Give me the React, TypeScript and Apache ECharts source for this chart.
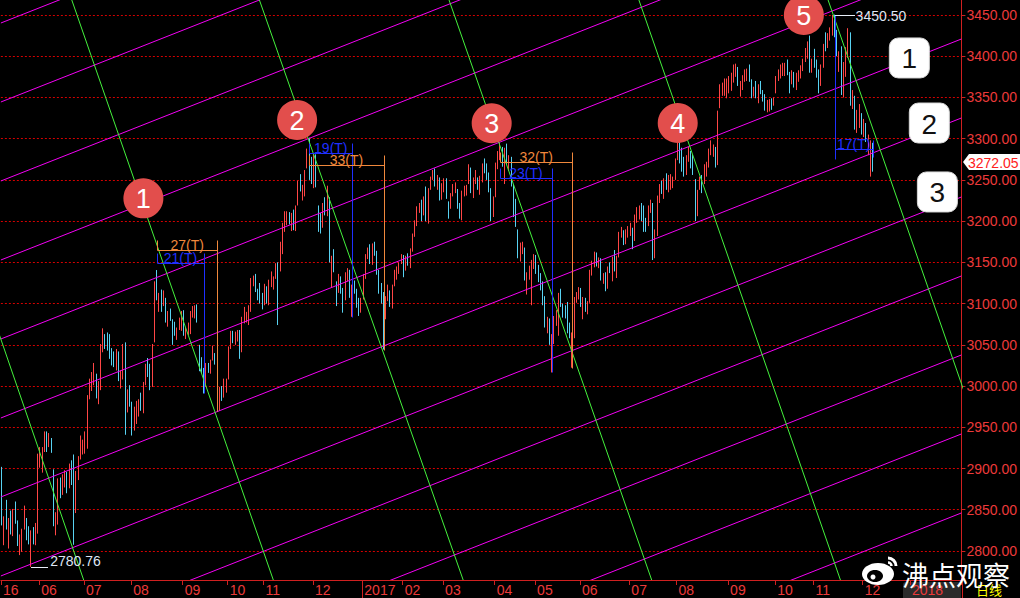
import React, { useEffect, useRef } from 'react';
import * as echarts from 'echarts';

// ---------- axis definitions ----------
const monthLabels = ['16', '06', '07', '08', '09', '10', '11', '12', '2017', '02', '03', '04', '05', '06', '07', '08', '09', '10', '11', '12', '2018'];
const monthDays = [17, 20, 21, 23, 20, 16, 22, 22, 18, 18, 23, 18, 20, 22, 21, 23, 21, 17, 22, 21, 23];
const yTicks = [2800, 2850, 2900, 2950, 3000, 3050, 3100, 3150, 3200, 3250, 3300, 3350, 3400, 3450];
const yMin = 2764.8;
const yMax = 3468.2;

// ---------- daily candles [open, close, low, high] ----------
const may2016 = [
  [2900, 2832.6, 2831, 2902], [2822, 2832.1, 2807, 2842], [2840, 2837.0, 2826, 2862], [2828, 2835.9, 2803, 2840],
  [2836, 2827.1, 2820, 2849], [2822, 2850.9, 2818, 2851], [2853, 2843.7, 2833, 2860], [2833, 2807.5, 2806, 2837],
  [2806, 2806.9, 2795, 2820], [2800, 2825.5, 2799, 2827], [2830, 2843.6, 2826, 2855], [2838, 2821.0, 2813, 2840],
  [2821, 2815.1, 2808, 2830], [2811, 2822.4, 2780.76, 2825], [2822, 2821.1, 2808, 2829], [2820, 2822.5, 2807, 2834],
  [2822, 2916.6, 2821, 2918],
];
const jun2016 = [
  [2913, 2913.5, 2901, 2926], [2907, 2925.2, 2895, 2926], [2926, 2938.7, 2920, 2945], [2937, 2934.1, 2920, 2945],
  [2934, 2936.0, 2926, 2943], [2932, 2927.2, 2919, 2937], [2896, 2833.1, 2830, 2899], [2828, 2842.2, 2819, 2847],
  [2837, 2887.2, 2832, 2888], [2881, 2872.8, 2864, 2889], [2869, 2885.1, 2868, 2893], [2884, 2888.8, 2877, 2898],
  [2889, 2878.6, 2870, 2896], [2879, 2905.6, 2876, 2906], [2901, 2891.9, 2880, 2910], [2891, 2854.3, 2807.5, 2917],
  [2851, 2895.7, 2846, 2897], [2893, 2912.6, 2886, 2915], [2913, 2931.6, 2911, 2940], [2929, 2929.6, 2917, 2935],
];
const jul2016 = [
  [2931, 2932.5, 2918, 2945], [2924, 2988.6, 2924, 2989], [2990, 3006.9, 2984, 3009], [3005, 3017.3, 2994, 3017],
  [3013, 3016.9, 3001, 3028], [3015, 2988.1, 2985, 3015], [2990, 2994.9, 2978, 3006], [2996, 3049.4, 2995, 3051],
  [3048, 3060.7, 3041, 3070], [3058, 3054.0, 3045, 3063], [3055, 3054.3, 3043, 3065], [3055, 3043.6, 3033, 3063],
  [3038, 3036.6, 3025, 3046], [3035, 3027.9, 3023, 3042], [3030, 3039.2, 3019, 3045], [3038, 3012.8, 3006, 3042],
  [3009, 3015.8, 2997, 3019], [3016, 3050.2, 3008, 3051], [3051, 2992.0, 2940.9, 3053], [2980, 2994.3, 2968, 2996],
  [2997, 2979.3, 2975, 3001],
];
const aug2016 = [
  [2977, 2953.4, 2940, 2981], [2951, 2971.3, 2946, 2975], [2962, 2978.5, 2954, 2982], [2973, 2982.4, 2963, 2984],
  [2984, 2976.7, 2970, 2992], [2974, 3004.3, 2967, 3005], [3004, 3025.7, 3001, 3027], [3024, 3018.8, 3011, 3034],
  [3012, 3002.9, 2995, 3027], [3001, 3050.7, 2999, 3051], [3053, 3125.2, 3053, 3127], [3124, 3110.0, 3104, 3140.7],
  [3105, 3110.0, 3090, 3113], [3108, 3104.1, 3090, 3117], [3103, 3108.1, 3097, 3116], [3106, 3084.8, 3077, 3107],
  [3082, 3089.7, 3072, 3091], [3089, 3085.9, 3079, 3094], [3075, 3068.3, 3050, 3081], [3071, 3070.3, 3061, 3078],
  [3062, 3070.0, 3056, 3071], [3070, 3074.7, 3068, 3083], [3071, 3085.5, 3067, 3091],
];
const sep2016 = [
  [3082, 3063.3, 3061, 3092], [3063, 3067.4, 3057, 3071], [3067, 3072.1, 3062, 3077], [3068, 3090.7, 3063, 3091],
  [3089, 3091.9, 3083, 3097], [3088, 3095.8, 3082, 3098], [3095, 3078.9, 3077, 3099], [3048, 3021.9, 3018, 3050],
  [3026, 3023.5, 3015, 3035], [3013, 3002.9, 2991, 3022], [3003, 3026.1, 2999, 3028], [3024, 3023.0, 3016, 3028],
  [3023, 3025.9, 3015, 3032], [3035, 3042.2, 3031, 3049], [3039, 3033.9, 3026, 3040], [3025, 2980.4, 2969.5, 3027],
  [2976, 2998.2, 2970, 2999], [2994, 2987.9, 2982, 3000], [2992, 2998.5, 2986, 3009], [2997, 3004.7, 2992, 3009],
];
const oct2016 = [
  [3012, 3048.1, 3008, 3048], [3051, 3065.3, 3045, 3067], [3063, 3058.5, 3052, 3067], [3056, 3061.3, 3050, 3066],
  [3057, 3063.8, 3054, 3068], [3065, 3041.2, 3033, 3068], [3041, 3083.9, 3041, 3084], [3083, 3084.7, 3076, 3096],
  [3083, 3084.5, 3077, 3090], [3083, 3090.9, 3074, 3098], [3090, 3128.2, 3090, 3131], [3129, 3131.9, 3121, 3134],
  [3131, 3116.3, 3114, 3136], [3113, 3112.4, 3104, 3118], [3113, 3104.3, 3100, 3125], [3103, 3100.5, 3093, 3113],
];
const nov2016 = [
  [3100, 3122.4, 3098, 3124], [3117, 3102.8, 3100, 3121], [3100, 3128.9, 3098, 3129], [3124, 3125.3, 3120, 3139],
  [3124, 3133.3, 3117, 3133], [3135, 3147.9, 3130, 3149], [3150, 3128.4, 3074, 3150], [3140, 3171.3, 3139, 3175],
  [3170, 3196.0, 3160, 3198], [3195, 3210.4, 3187, 3212], [3203, 3206.9, 3195, 3212], [3207, 3205.1, 3196, 3211],
  [3200, 3208.4, 3188, 3210], [3209, 3192.9, 3189, 3214], [3196, 3218.2, 3188, 3219], [3220, 3248.4, 3219, 3249],
  [3250, 3241.7, 3236, 3257], [3236, 3241.1, 3225, 3244], [3240, 3261.9, 3230, 3262], [3264, 3277.0, 3264, 3288],
  [3283, 3282.9, 3250, 3301.2], [3270, 3250.0, 3245, 3278],
];
const dec2016 = [
  [3245, 3273.3, 3240, 3282], [3271, 3243.8, 3241, 3281], [3218, 3204.7, 3187, 3219], [3208, 3199.6, 3185, 3210],
  [3196, 3222.2, 3192, 3222], [3224, 3215.4, 3207, 3229], [3210, 3232.9, 3206, 3243], [3227, 3152.9, 3150, 3229],
  [3140, 3155.0, 3120, 3158], [3152, 3140.5, 3138, 3166], [3120, 3117.7, 3097, 3127], [3117, 3122.9, 3113, 3136],
  [3122, 3118.1, 3112, 3133], [3116, 3102.9, 3089, 3119], [3104, 3137.4, 3104, 3138], [3135, 3139.6, 3127, 3143],
  [3136, 3110.2, 3107, 3141], [3105, 3122.6, 3084, 3123], [3121, 3114.7, 3112, 3128], [3113, 3102.2, 3095, 3118],
  [3099, 3096.1, 3085, 3107], [3097, 3103.6, 3089, 3107],
];
const jan2017 = [
  [3105, 3135.9, 3105, 3136], [3133, 3158.8, 3130, 3160], [3157, 3165.4, 3154, 3168], [3163, 3154.3, 3148, 3172],
  [3150, 3171.2, 3147, 3173], [3167, 3161.7, 3158, 3175], [3160, 3136.7, 3135, 3164], [3135, 3119.3, 3112, 3141],
  [3115, 3112.8, 3100, 3125], [3111, 3103.4, 3044.3, 3114], [3099, 3108.8, 3081, 3109], [3106, 3113.0, 3103, 3123],
  [3107, 3101.3, 3096, 3116], [3100, 3123.1, 3094, 3123], [3124, 3136.8, 3121, 3141], [3136, 3142.5, 3129, 3145],
  [3140, 3149.6, 3136, 3150], [3151, 3159.2, 3148, 3160],
];
const feb2017 = [
  [3156, 3140.2, 3132, 3159], [3142, 3156.0, 3140, 3158], [3155, 3153.1, 3146, 3161], [3150, 3166.9, 3143, 3167],
  [3165, 3183.2, 3163, 3185], [3183, 3196.7, 3181, 3201], [3197, 3216.8, 3194, 3218], [3216, 3217.0, 3210, 3222],
  [3215, 3212.0, 3200, 3226], [3212, 3229.6, 3207, 3230], [3229, 3202.1, 3200, 3242], [3201, 3240.2, 3197, 3240],
  [3239, 3253.3, 3238, 3254], [3254, 3261.2, 3250, 3262], [3260, 3251.2, 3242, 3264], [3245, 3253.4, 3238, 3256],
  [3251, 3228.7, 3225, 3253], [3228, 3241.7, 3226, 3246],
];
const mar2017 = [
  [3239, 3246.9, 3235, 3252], [3247, 3230.0, 3227, 3252], [3221, 3218.3, 3203, 3224], [3217, 3233.9, 3215, 3234],
  [3232, 3242.4, 3230, 3245], [3239, 3240.7, 3234, 3247], [3238, 3216.8, 3215, 3239], [3214, 3212.8, 3203, 3222],
  [3206, 3237.0, 3201, 3237], [3237, 3239.3, 3230, 3243], [3235, 3241.8, 3231, 3244], [3246, 3268.9, 3245, 3269],
  [3265, 3237.5, 3234, 3265], [3233, 3250.8, 3228, 3253], [3249, 3261.6, 3245, 3262], [3247, 3245.2, 3238, 3253],
  [3240, 3248.6, 3232, 3255], [3250, 3269.4, 3247, 3270], [3268, 3266.9, 3258, 3276], [3262, 3252.9, 3250, 3270],
  [3253, 3241.3, 3235, 3259], [3236, 3210.2, 3200, 3240], [3210, 3222.5, 3205, 3230],
];
const apr2017 = [
  [3230, 3270.1, 3229, 3271], [3271, 3281.0, 3263, 3285], [3280, 3286.6, 3274, 3295.2], [3288, 3269.4, 3266, 3290],
  [3262, 3288.9, 3245, 3289], [3285, 3273.8, 3268, 3294], [3270, 3275.9, 3261, 3280], [3274, 3246.1, 3242, 3278],
  [3242, 3222.2, 3205, 3245], [3222, 3196.7, 3193, 3227], [3183, 3170.7, 3155, 3190], [3169, 3172.1, 3151, 3174],
  [3168, 3173.2, 3160, 3175], [3165, 3129.5, 3128, 3168], [3128, 3134.6, 3111, 3138], [3136, 3140.8, 3129, 3146],
  [3140, 3152.2, 3098, 3153], [3150, 3154.7, 3142, 3160],
];
const may2017 = [
  [3153, 3143.7, 3136, 3159], [3141, 3135.4, 3126, 3147], [3131, 3127.4, 3116, 3137], [3122, 3103.0, 3098, 3127],
  [3100, 3078.6, 3071, 3109], [3073, 3080.5, 3064, 3084], [3077, 3052.8, 3050, 3082], [3045, 3061.5, 3016.5, 3063],
  [3055, 3083.5, 3051, 3085], [3083, 3090.2, 3073, 3092], [3087, 3112.9, 3061, 3113], [3110, 3104.4, 3096, 3118],
  [3096, 3090.1, 3083, 3100], [3092, 3090.6, 3082, 3098], [3093, 3075.7, 3064, 3102], [3069, 3061.9, 3058, 3077],
  [3054, 3064.1, 3022.3, 3065], [3061, 3107.8, 3058, 3108], [3106, 3110.1, 3101, 3114], [3114, 3117.2, 3105, 3120],
];
const jun2017 = [
  [3113, 3102.6, 3096, 3119], [3094, 3105.5, 3081, 3108], [3102, 3091.7, 3090, 3107], [3090, 3102.1, 3087, 3103],
  [3102, 3140.3, 3101, 3141], [3138, 3150.3, 3134, 3152], [3148, 3158.4, 3144, 3163], [3157, 3153.1, 3145, 3162],
  [3148, 3153.7, 3143, 3156], [3151, 3130.7, 3128, 3155], [3130, 3132.5, 3124, 3137], [3130, 3123.2, 3115, 3138],
  [3123, 3144.4, 3118, 3145], [3142, 3140.0, 3137, 3150], [3137, 3156.2, 3127, 3157], [3157, 3147.5, 3139, 3165],
  [3144, 3157.9, 3131, 3158], [3158, 3185.4, 3156, 3187], [3184, 3191.2, 3180, 3193], [3186, 3173.2, 3171, 3189],
  [3173, 3188.1, 3172, 3190], [3183, 3192.4, 3180, 3194],
];
const jul2017 = [
  [3193, 3195.9, 3182, 3198], [3190, 3182.8, 3166, 3192], [3180, 3207.1, 3176, 3208], [3204, 3212.4, 3198, 3217],
  [3209, 3217.9, 3202, 3219], [3217, 3212.6, 3200, 3222], [3211, 3203.0, 3187, 3219], [3200, 3197.5, 3187, 3204],
  [3196, 3218.2, 3194, 3219], [3217, 3222.4, 3210, 3226], [3221, 3176.5, 3152.9, 3222], [3165, 3187.6, 3155, 3190],
  [3183, 3230.9, 3182, 3231], [3228, 3244.9, 3222, 3245], [3240, 3237.9, 3233, 3249], [3235, 3250.6, 3227, 3252],
  [3249, 3243.7, 3238, 3258], [3242, 3247.7, 3235, 3256], [3244, 3249.8, 3238, 3257], [3245, 3253.2, 3240, 3254],
  [3253, 3273.0, 3250, 3276],
];
const aug2017 = [
  [3275, 3292.6, 3274, 3305.4], [3291, 3285.1, 3270, 3297], [3282, 3272.9, 3260, 3289], [3268, 3262.1, 3254, 3278],
  [3263, 3279.5, 3256, 3280], [3280, 3281.9, 3272, 3290], [3280, 3275.6, 3264, 3285], [3273, 3261.8, 3256, 3281],
  [3242, 3208.5, 3200, 3251], [3210, 3237.4, 3206, 3238], [3241, 3251.3, 3238, 3254], [3250, 3246.4, 3234, 3256],
  [3247, 3268.4, 3245, 3269], [3262, 3268.4, 3254, 3272], [3268, 3286.9, 3265, 3288], [3289, 3290.2, 3280, 3298],
  [3286, 3287.7, 3278, 3293], [3286, 3271.5, 3265, 3290], [3270, 3331.5, 3268, 3334], [3338, 3362.6, 3337, 3366],
  [3361, 3365.2, 3352, 3368], [3363, 3363.6, 3352, 3373], [3360, 3360.8, 3349, 3373],
];
const sep2017 = [
  [3363, 3367.1, 3355, 3376], [3363, 3379.6, 3358, 3380], [3377, 3384.3, 3368, 3390], [3380, 3385.4, 3375, 3391],
  [3384, 3365.5, 3364, 3387], [3364, 3365.2, 3351, 3370], [3363, 3376.4, 3359, 3377], [3377, 3379.5, 3369, 3384],
  [3375, 3384.1, 3370, 3385], [3386, 3371.4, 3369, 3390], [3368, 3353.6, 3349, 3372], [3356, 3362.9, 3351, 3363],
  [3363, 3356.8, 3349, 3370], [3352, 3366.0, 3343, 3366], [3367, 3357.8, 3354, 3370], [3353, 3352.5, 3345, 3359],
  [3351, 3341.6, 3334, 3354], [3338, 3343.6, 3332, 3347], [3343, 3345.3, 3333, 3348], [3344, 3339.6, 3335, 3349],
  [3340, 3348.9, 3340, 3350],
];
const oct2017 = [
  [3364, 3374.4, 3355, 3376], [3377, 3382.2, 3370, 3384], [3379, 3388.3, 3373, 3390], [3385, 3386.1, 3376, 3392],
  [3385, 3390.5, 3376, 3392], [3392, 3378.5, 3377, 3396], [3379, 3372.0, 3355, 3381], [3374, 3381.8, 3366, 3383],
  [3378, 3370.2, 3362, 3381], [3366, 3378.6, 3359, 3380], [3378, 3380.7, 3369, 3383], [3376, 3388.2, 3373, 3389],
  [3384, 3396.9, 3382, 3397], [3397, 3407.6, 3393, 3410], [3407, 3416.8, 3397, 3418], [3415, 3390.3, 3380, 3425],
  [3385, 3393.3, 3380, 3397],
];
const nov2017 = [
  [3398, 3395.9, 3386, 3409], [3393, 3383.3, 3374, 3396], [3381, 3371.7, 3355, 3384], [3368, 3388.2, 3364, 3390],
  [3390, 3413.6, 3386, 3415], [3418, 3415.5, 3406, 3429], [3413, 3427.8, 3410, 3428], [3423, 3432.7, 3419, 3435],
  [3433, 3447.8, 3425, 3450.0], [3447, 3429.6, 3423, 3450.5], [3420, 3402.5, 3400, 3432], [3397, 3399.3, 3381, 3406],
  [3399, 3382.9, 3353, 3412], [3369, 3392.4, 3350, 3393], [3388, 3410.5, 3375, 3411], [3410, 3430.5, 3398, 3434],
  [3427, 3351.9, 3340, 3429], [3339, 3353.8, 3336, 3359], [3350, 3322.2, 3311, 3352], [3313, 3333.7, 3307, 3335],
  [3332, 3337.9, 3313, 3342], [3329, 3317.2, 3305, 3331],
];
const dec2017 = [
  [3315, 3317.6, 3302, 3324], [3310, 3309.6, 3296, 3319], [3303, 3303.7, 3280, 3305], [3291, 3293.9, 3254, 3298],
  [3290, 3272.05, 3260, 3295],
];

const lastPrice = 3272.05;
const lowMark = { idx: 13, price: 2780.76, text: '2780.76' };
const highMark = { idx: 371, price: 3450.5, text: '3450.50' };

// ---------- drawn trend lines (prices at left / right edge of the plot) ----------
const magentaLeft = [2386.5, 2482.3, 2578.1, 2673.9, 2769.7, 2865.5, 2961.3, 3057.1, 3152.9, 3248.7, 3344.5, 3440.3];
const magentaRight = [2846.1, 2941.9, 3037.7, 3133.5, 3229.3, 3325.1, 3420.9, 3516.7, 3612.5, 3708.3, 3804.1, 3899.9];
// green lines: day index where each crosses the top and the bottom of the plot
const greenTopIdx = [-52.5, 31.1, 114.7, 199.2, 283.8, 368.1];
const greenBottomIdx = [36.4, 120.9, 205.5, 289.5, 373.6, 457.9];

// ---------- annotations ----------
const waveBadges = [
  { n: '1', idx: 63.0, price: 3227.7 },
  { n: '2', idx: 131.5, price: 3322.7 },
  { n: '3', idx: 218.2, price: 3318.7 },
  { n: '4', idx: 301.1, price: 3319.0 },
  { n: '5', idx: 357.3, price: 3450.0 },
];
const channelBadges = [
  { n: '1', idx: 404.3, price: 3397.9 },
  { n: '2', idx: 413.2, price: 3319.0 },
  { n: '3', idx: 416.8, price: 3235.4 },
];
const ORANGE = '#f0883c';
const BLUE = '#1f2fff';
const brackets = [
  { label: '27(T)', color: ORANGE, start: 69, days: 27, level: 3165.0, top: 3177.0 },
  { label: '21(T)', color: BLUE, start: 69, days: 21, level: 3149.6, top: 3161.0 },
  { label: '19(T)', color: BLUE, start: 137, days: 19, level: 3282.6, top: 3294.8 },
  { label: '33(T)', color: ORANGE, start: 137, days: 33, level: 3268.1, top: 3280.2 },
  { label: '32(T)', color: ORANGE, start: 222, days: 32, level: 3271.7, top: 3283.9 },
  { label: '23(T)', color: BLUE, start: 222, days: 23, level: 3252.3, top: 3264.5 },
];
const backBracket = { label: '17(T)', color: BLUE, start: 371, days: 17, level: 3287.5, leftBottom: 3275.2, rightTop: 3298.4, rightBottom: 3277.8 };

const UP = '#ff4646';
const DOWN = '#58d2f2';
const AXIS_RED = '#d02020';
const LABEL_RED = '#ec3a3a';
const FONT = '"Liberation Sans", Arial, sans-serif';

export default function App() {
  const ref = useRef<HTMLDivElement>(null);

  useEffect(() => {
    if (!ref.current) return;
    const chart = echarts.init(ref.current, null, { renderer: 'svg' });

    const candles = [
      ...may2016, ...jun2016, ...jul2016, ...aug2016, ...sep2016, ...oct2016, ...nov2016, ...dec2016,
      ...jan2017, ...feb2017, ...mar2017, ...apr2017, ...may2017, ...jun2017, ...jul2017, ...aug2017,
      ...sep2017, ...oct2017, ...nov2017, ...dec2017,
    ];
    const labelAt: Record<number, string> = {};
    let total = 0;
    monthDays.forEach((d, k) => {
      labelAt[total] = monthLabels[k];
      total += d;
    });
    const categories = Array.from({ length: total }, (_, i) => String(i));
    const isMonthStart = (i: number) => labelAt[i] !== undefined;

    const lineSeries: any[] = [];
    magentaLeft.forEach((p, k) => {
      lineSeries.push({
        type: 'line', xAxisIndex: 1, yAxisIndex: 0, symbol: 'none', silent: true, clip: true, z: 3,
        lineStyle: { color: '#f400f4', width: 1 },
        data: [[-0.5, p], [total - 0.5, magentaRight[k]]],
      });
    });
    greenTopIdx.forEach((t, k) => {
      lineSeries.push({
        type: 'line', xAxisIndex: 1, yAxisIndex: 0, symbol: 'none', silent: true, clip: true, z: 3,
        lineStyle: { color: '#44f23c', width: 1 },
        data: [[t, yMax], [greenBottomIdx[k], yMin]],
      });
    });

    chart.setOption({
      animation: false,
      backgroundColor: '#000000',
      grid: { left: 0, right: 58, top: 0, bottom: 18, containLabel: false },
      xAxis: [
        {
          type: 'category',
          data: categories,
          boundaryGap: true,
          z: 5,
          axisLine: { show: true, onZero: false, lineStyle: { color: AXIS_RED, width: 1 } },
          axisTick: { show: true, interval: (i: number) => isMonthStart(i), length: 5, lineStyle: { color: AXIS_RED } },
          axisLabel: {
            show: true,
            interval: (i: number) => isMonthStart(i),
            formatter: (v: string) => labelAt[Number(v)] ?? '',
            color: LABEL_RED,
            fontSize: 14,
            fontFamily: FONT,
            align: 'left',
            margin: 3,
            padding: [0, 0, 0, 1],
          },
          splitLine: { show: false },
        },
        {
          type: 'value', min: -0.5, max: total - 0.5, show: false,
          axisLine: { show: false, onZero: false }, axisTick: { show: false }, axisLabel: { show: false }, splitLine: { show: false },
        },
      ],
      yAxis: {
        type: 'value',
        position: 'right',
        min: yMin,
        max: yMax,
        splitNumber: 14,
        scale: true,
        axisLine: { show: true, onZero: false, lineStyle: { color: AXIS_RED, width: 1 } },
        axisTick: { show: true, inside: false, length: 4, customValues: yTicks, lineStyle: { color: AXIS_RED } },
        axisLabel: {
          customValues: yTicks,
          formatter: (v: number) => v.toFixed(2),
          color: LABEL_RED,
          fontSize: 14,
          fontFamily: FONT,
          margin: 5,
        },
        splitLine: { show: true, lineStyle: { color: '#d40000', type: [2, 2], width: 1 } },
      },
      series: [
        {
          type: 'candlestick',
          xAxisIndex: 0,
          yAxisIndex: 0,
          data: candles,
          barWidth: 1,
          z: 2,
          itemStyle: { color: UP, color0: DOWN, borderColor: UP, borderColor0: DOWN, borderWidth: 1 },
        },
        ...lineSeries,
      ],
    });

    const P = (i: number, p: number) =>
      chart.convertToPixel({ xAxisIndex: 1, yAxisIndex: 0 } as any, [i, p]) as unknown as number[];
    const cx = (v: number) => Math.round(v) + 0.5;
    const g: any[] = [];
    const seg = (x1: number, y1: number, x2: number, y2: number, color: string, z = 20) =>
      g.push({ type: 'line', silent: true, z, shape: { x1, y1, x2, y2 }, style: { stroke: color, lineWidth: 1 } });
    const txt = (x: number, y: number, text: string, color: string, size: number, align: string, valign: string, extra: any = {}) =>
      g.push({
        type: 'text', silent: true, z: 30, x, y,
        style: {
          text, fill: color, fontSize: size, fontFamily: extra.family || FONT, fontWeight: extra.weight || 'normal',
          align, textAlign: align, verticalAlign: valign, textVerticalAlign: valign,
        },
      });

    // time brackets
    brackets.forEach((b) => {
      const end = b.start + b.days;
      const [xs, yl] = P(b.start, b.level);
      const [xe] = P(end, b.level);
      const yt = P(b.start, b.top)[1];
      const yLow = P(end, candles[end][2])[1];
      seg(cx(xs), cx(yl), cx(xe), cx(yl), b.color);
      seg(cx(xs), cx(yt), cx(xs), cx(yl), b.color);
      seg(cx(xe), cx(yt), cx(xe), cx(yLow), b.color);
      txt((xs + xe) / 2, yl + 2, b.label, b.color, 14, 'center', 'bottom');
    });
    {
      const b = backBracket;
      const end = b.start + b.days;
      const [xs, yl] = P(b.start, b.level);
      const [xe] = P(end, b.level);
      const yHigh = P(b.start, highMark.price)[1];
      seg(cx(xs), cx(yHigh), cx(xs), cx(P(b.start, b.leftBottom)[1]), b.color);
      seg(cx(xs), cx(yl), cx(xe), cx(yl), b.color);
      seg(cx(xe), cx(P(end, b.rightTop)[1]), cx(xe), cx(P(end, b.rightBottom)[1]), b.color);
      txt((xs + xe) / 2, yl + 2, b.label, b.color, 14, 'center', 'bottom');
    }

    // low / high labels
    {
      const [lx, ly] = P(lowMark.idx, lowMark.price);
      seg(Math.round(lx), cx(ly), Math.round(lx) + 17, cx(ly), '#e8eef8');
      txt(lx + 19, ly - 6, lowMark.text, '#dfe6f4', 14, 'left', 'middle');
      const [hx, hy] = P(highMark.idx, highMark.price);
      seg(Math.round(hx), cx(hy), Math.round(hx) + 20, cx(hy), '#e8eef8');
      txt(hx + 21, hy + 1, highMark.text, '#dfe6f4', 14, 'left', 'middle');
    }

    // wave badges
    waveBadges.forEach((w) => {
      const [x, y] = P(w.idx, w.price);
      g.push({ type: 'circle', silent: true, z: 40, shape: { cx: x, cy: y, r: 20 }, style: { fill: '#e24e4c' } });
      txt(x, y + 1, w.n, '#ffffff', 27, 'center', 'middle');
      g[g.length - 1].z = 41;
    });
    channelBadges.forEach((w) => {
      const [x, y] = P(w.idx, w.price);
      g.push({ type: 'rect', silent: true, z: 40, shape: { x: x - 20, y: y - 20, width: 40, height: 40, r: 9 }, style: { fill: '#ffffff', stroke: '#d8d8d8', lineWidth: 1 } });
      txt(x, y + 1, w.n, '#111111', 28, 'center', 'middle');
      g[g.length - 1].z = 41;
    });

    // last price tag
    {
      const y = Math.round(P(0, lastPrice)[1]);
      const x0 = 963;
      g.push({
        type: 'polygon', silent: true, z: 40,
        shape: { points: [[x0, y], [x0 + 6, y - 8], [1020, y - 8], [1020, y + 8], [x0 + 6, y + 8]] },
        style: { fill: '#ffffff' },
      });
      txt(x0 + 5, y + 1, lastPrice.toFixed(2), '#ff2020', 14, 'left', 'middle');
      g[g.length - 1].z = 41;
    }

    // axis decorations
    const x2017 = cx(P(160.5, yMin)[0]);
    seg(x2017, 580, x2017, 598, AXIS_RED, 10);
    seg(962.5, 580, 962.5, 598, AXIS_RED, 10);
    g.push({ type: 'rect', silent: true, z: 1, shape: { x: 903, y: 582, width: 58, height: 18, r: 3 }, style: { fill: '#2b2b2b' } });
    txt(976, 589, '日线', '#ffff00', 13, 'left', 'middle', { family: '"Noto Sans CJK SC", sans-serif' });

    // watermark
    g.push({ type: 'ellipse', silent: true, z: 50, shape: { cx: 878, cy: 574, rx: 16, ry: 11 }, style: { fill: '#ffffff' } });
    g.push({ type: 'ellipse', silent: true, z: 51, shape: { cx: 875, cy: 576, rx: 8, ry: 6 }, style: { fill: '#000000' } });
    g.push({ type: 'circle', silent: true, z: 52, shape: { cx: 873, cy: 577, r: 2.5 }, style: { fill: '#ffffff' } });
    g.push({ type: 'arc', silent: true, z: 50, shape: { cx: 888, cy: 566, r: 8, startAngle: -Math.PI / 2, endAngle: 0 }, style: { stroke: '#ffffff', lineWidth: 3, fill: 'none' } });
    g.push({ type: 'arc', silent: true, z: 50, shape: { cx: 888, cy: 566, r: 3.5, startAngle: -Math.PI / 2, endAngle: 0 }, style: { stroke: '#ffffff', lineWidth: 2.5, fill: 'none' } });
    txt(902, 574, '沸点观察', '#ffffff', 27, 'left', 'middle', { family: '"Noto Sans CJK SC", sans-serif' });
    g[g.length - 1].z = 50;

    chart.setOption({ graphic: { elements: g } });

    return () => chart.dispose();
  }, []);

  return <div ref={ref} style={{ position: 'absolute', left: 0, top: 0, width: 1020, height: 598 }} />;
}
